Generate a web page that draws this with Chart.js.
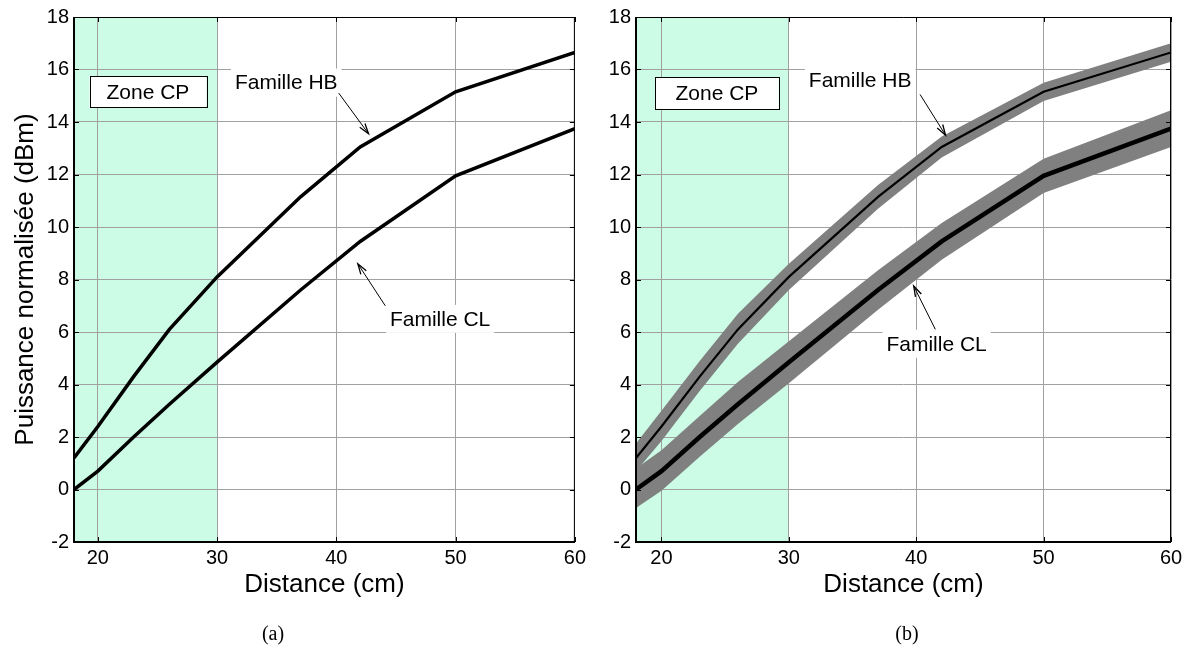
<!DOCTYPE html>
<html>
<head>
<meta charset="utf-8">
<script src="https://cdn.jsdelivr.net/npm/chart.js@4.4.1/dist/chart.umd.min.js"></script>
<style>
    html, body { margin: 0; padding: 0; background: #fff; }
    #wrap { position: relative; width: 1189px; height: 651px; overflow: hidden; }
    .pane { position: absolute; top: 0; height: 651px; }
    .cap {
        position: absolute; top: 622px; transform: translateX(-50%);
        font-family: 'Liberation Serif', 'Times New Roman', serif; font-size: 20px; color: #000;
    }
</style>
</head>
<body>
<div id="wrap">
    <div class="pane" style="left:0;width:590px"><canvas id="chartA"></canvas></div>
    <div class="pane" style="left:590px;width:599px"><canvas id="chartB"></canvas></div>
    <div class="cap" style="left:273px">(a)</div>
    <div class="cap" style="left:907px">(b)</div>
</div>
<script>
// Distances (cm) and normalised power (dBm)
const distance = [18, 20, 23, 26, 30, 37, 42, 50, 60];
const hbPower  = [1.2, 2.4, 4.3, 6.1, 8.1, 11.15, 13.05, 15.15, 16.65];
const clPower  = [0.0, 0.7, 2.0, 3.25, 4.85, 7.6, 9.45, 11.95, 13.75];

// Dispersion bands of panel (b)
const hbUpper = [1.75, 3.0, 4.9, 6.7, 8.6, 11.6, 13.45, 15.5, 17.0];
const hbLower = [0.7, 1.85, 3.75, 5.55, 7.6, 10.7, 12.65, 14.8, 16.3];
const clUpper = [0.8, 1.5, 2.8, 4.1, 5.65, 8.35, 10.15, 12.6, 14.45];
const clLower = [-0.7, -0.05, 1.25, 2.5, 4.05, 6.85, 8.75, 11.3, 13.05];

const xTicks = [20, 30, 40, 50, 60];
const yTicks = [-2, 0, 2, 4, 6, 8, 10, 12, 14, 16, 18];
const zoneCP = [18, 30];

const FONT = "'Liberation Sans', Arial, sans-serif";
const GRID = '#a0a0a0';

const pts = (ys) => distance.map((d, i) => ({ x: d, y: ys[i] }));

// text annotations, in data units
const notesA = {
    box: { x: [19.3, 29.1], y: [14.55, 15.75], text: 'Zone CP' },
    labels: [
        { text: 'Famille HB', x: 35.8, y: 15.5 },
        { text: 'Famille CL', x: 48.7, y: 6.5 }
    ],
    arrows: [
        { from: [40.2, 15.1], to: [42.7, 13.55] },
        { from: [44.1, 7.0], to: [41.8, 8.6] }
    ]
};
const notesB = {
    box: { x: [19.5, 29.2], y: [14.5, 15.7], text: 'Zone CP' },
    labels: [
        { text: 'Famille HB', x: 35.6, y: 15.6 },
        { text: 'Famille CL', x: 41.6, y: 5.55 }
    ],
    arrows: [
        { from: [40.3, 15.05], to: [42.3, 13.5] },
        { from: [41.5, 6.1], to: [39.8, 7.75] }
    ]
};

function figurePlugin(notes) {
    return {
        id: 'figure',
        beforeDraw(chart) {
            const { ctx, chartArea: a, scales: { x } } = chart;
            const x1 = x.getPixelForValue(zoneCP[0]);
            const x2 = x.getPixelForValue(zoneCP[1]);
            ctx.save();
            ctx.fillStyle = 'rgb(204,252,230)';
            ctx.fillRect(x1, a.top, x2 - x1, a.bottom - a.top);
            ctx.restore();
        },
        afterDatasetsDraw(chart) {
            const { ctx, scales: { x, y } } = chart;
            ctx.save();
            ctx.font = '21px ' + FONT;
            ctx.textAlign = 'center';
            ctx.textBaseline = 'middle';

            // Zone CP box
            const b = notes.box;
            const bx1 = x.getPixelForValue(b.x[0]), bx2 = x.getPixelForValue(b.x[1]);
            const by1 = y.getPixelForValue(b.y[1]), by2 = y.getPixelForValue(b.y[0]);
            ctx.fillStyle = '#fff';
            ctx.fillRect(bx1, by1, bx2 - bx1, by2 - by1);
            ctx.strokeStyle = '#000';
            ctx.lineWidth = 1;
            ctx.strokeRect(Math.round(bx1) + 0.5, Math.round(by1) + 0.5, Math.round(bx2 - bx1), Math.round(by2 - by1));
            ctx.fillStyle = '#000';
            ctx.fillText(b.text, (bx1 + bx2) / 2, (by1 + by2) / 2 + 1);

            // labels with white background
            notes.labels.forEach(l => {
                const px = x.getPixelForValue(l.x), py = y.getPixelForValue(l.y);
                const w = ctx.measureText(l.text).width + 8;
                ctx.fillStyle = '#fff';
                ctx.fillRect(px - w / 2, py - 14, w, 28);
                ctx.fillStyle = '#000';
                ctx.fillText(l.text, px, py + 1);
            });

            // arrows
            ctx.strokeStyle = '#000';
            ctx.lineWidth = 1;
            notes.arrows.forEach(ar => {
                const fx = x.getPixelForValue(ar.from[0]), fy = y.getPixelForValue(ar.from[1]);
                const tx = x.getPixelForValue(ar.to[0]), ty = y.getPixelForValue(ar.to[1]);
                const ang = Math.atan2(ty - fy, tx - fx);
                ctx.beginPath();
                ctx.moveTo(fx, fy);
                ctx.lineTo(tx, ty);
                ctx.stroke();
                ctx.lineWidth = 1.3;
                ctx.beginPath();
                ctx.moveTo(tx - 11 * Math.cos(ang - 0.3), ty - 11 * Math.sin(ang - 0.3));
                ctx.lineTo(tx, ty);
                ctx.lineTo(tx - 11 * Math.cos(ang + 0.3), ty - 11 * Math.sin(ang + 0.3));
                ctx.stroke();
                ctx.lineWidth = 1;
            });
            ctx.restore();
        },
        afterDraw(chart) {
            const { ctx, chartArea: a, scales: { x, y } } = chart;
            ctx.save();
            ctx.strokeStyle = '#000';
            // inward tick marks on all four sides
            ctx.lineWidth = 1;
            ctx.beginPath();
            xTicks.forEach(v => {
                const px = Math.round(x.getPixelForValue(v)) + 0.5;
                ctx.moveTo(px, a.bottom); ctx.lineTo(px, a.bottom - 5);
                ctx.moveTo(px, a.top); ctx.lineTo(px, a.top + 5);
            });
            yTicks.forEach(v => {
                const py = Math.round(y.getPixelForValue(v)) + 0.5;
                ctx.moveTo(a.left, py); ctx.lineTo(a.left + 5, py);
                ctx.moveTo(a.right, py); ctx.lineTo(a.right - 5, py);
            });
            ctx.stroke();
            // axes box
            ctx.beginPath();
            ctx.moveTo(a.left, a.top + 0.5); ctx.lineTo(a.right, a.top + 0.5);
            ctx.moveTo(a.right - 0.5, a.top); ctx.lineTo(a.right - 0.5, a.bottom);
            ctx.stroke();
            ctx.lineWidth = 2;
            ctx.beginPath();
            ctx.moveTo(a.left, a.top); ctx.lineTo(a.left, a.bottom);
            ctx.lineTo(a.right, a.bottom);
            ctx.stroke();
            ctx.restore();
        }
    };
}

function makeChart(id, datasets, opts) {
    return new Chart(document.getElementById(id), {
        type: 'line',
        data: { datasets },
        options: {
            responsive: true,
            maintainAspectRatio: false,
            animation: false,
            layout: { padding: { top: 15, right: opts.padRight, bottom: 51, left: 0 } },
            plugins: { legend: { display: false }, tooltip: { enabled: false } },
            elements: { point: { radius: 0 }, line: { tension: 0 } },
            scales: {
                x: {
                    type: 'linear',
                    min: 18,
                    max: 60,
                    afterBuildTicks: s => { s.ticks = xTicks.map(v => ({ value: v })); },
                    afterFit: s => { s.height = 58; },
                    grid: { color: GRID, lineWidth: 1, drawTicks: false },
                    border: { display: false },
                    ticks: { font: { family: FONT, size: 20 }, color: '#000', padding: 4, maxRotation: 0 },
                    title: {
                        display: true, text: 'Distance (cm)', color: '#000',
                        font: { family: FONT, size: 26 }, padding: 0
                    }
                },
                y: {
                    type: 'linear',
                    min: -2,
                    max: 18,
                    afterBuildTicks: s => { s.ticks = yTicks.map(v => ({ value: v })); },
                    afterFit: s => { s.width = opts.yWidth; },
                    grid: { color: GRID, lineWidth: 1, drawTicks: false },
                    border: { display: false },
                    ticks: { font: { family: FONT, size: 20 }, color: '#000', padding: 5 },
                    title: {
                        display: !!opts.yTitle, text: opts.yTitle || '', color: '#000',
                        font: { family: FONT, size: 26 }, padding: { top: 10, bottom: 0 }
                    }
                }
            }
        },
        plugins: [figurePlugin(opts.notes)]
    });
}

// Panel (a)
makeChart('chartA', [
    { data: pts(hbPower), borderColor: '#000', borderWidth: 3.5, fill: false },
    { data: pts(clPower), borderColor: '#000', borderWidth: 3.5, fill: false }
], { padRight: 11, yWidth: 74, yTitle: 'Puissance normalisée (dBm)', notes: notesA });

// Panel (b)
makeChart('chartB', [
    { data: pts(hbPower), borderColor: '#000', borderWidth: 2.2, fill: false },
    { data: pts(clPower), borderColor: '#000', borderWidth: 4.5, fill: false },
    { data: pts(hbLower), borderWidth: 0, borderColor: 'rgba(0,0,0,0)', fill: false },
    { data: pts(hbUpper), borderWidth: 0, borderColor: 'rgba(0,0,0,0)', backgroundColor: '#808080', fill: '-1' },
    { data: pts(clLower), borderWidth: 0, borderColor: 'rgba(0,0,0,0)', fill: false },
    { data: pts(clUpper), borderWidth: 0, borderColor: 'rgba(0,0,0,0)', backgroundColor: '#808080', fill: '-1' }
], { padRight: 18, yWidth: 46, notes: notesB });
</script>
</body>
</html>
